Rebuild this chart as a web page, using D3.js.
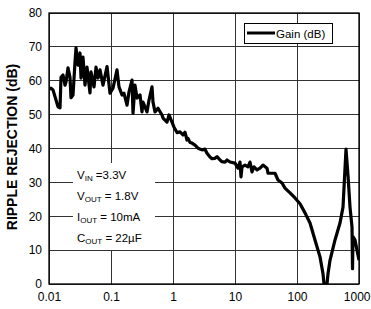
<!DOCTYPE html>
<html><head><meta charset="utf-8">
<script src="https://cdn.jsdelivr.net/npm/d3@7"></script>
<style>body{margin:0;background:#fff}svg{display:block;font-family:"Liberation Sans",Arial,sans-serif}</style>
</head><body><svg id="c" width="371" height="309"></svg>
<script>
const freq = [0.0100,0.01077,0.0116,0.01297,0.01397,0.01505,0.01562,0.01682,0.01812,0.0188,0.02025,0.02182,0.02264,0.02439,0.02627,0.02727,0.02937,0.03162,0.03282,0.03535,0.03808,0.04102,0.04585,0.04759,0.0532,0.0573,0.06172,0.06648,0.07432,0.08622,0.09639,
 0.1077,0.125,0.1346,0.1505,0.1621,0.1812,0.1951,0.2182,0.2264,0.2439,0.2627,0.2937,0.3162,0.3282,0.3808,0.4102,0.4585,0.4759,0.5126,0.573,0.6648,0.69,0.8005,0.8622,0.9639,
 1.038,1.16,1.297,1.45,1.562,1.682,1.746,1.88,2.025,2.264,2.531,2.937,3.282,3.535,3.952,4.257,4.759,5.126,5.73,6.172,6.9,7.432,8.308,
 10.0,11.18,12.04,12.5,12.97,14.5,16.21,17.46,18.8,20.25,22.64,25.31,28.3,32.82,34.07,39.52,44.18,49.39,57.3,64.06,77.13,92.88,
 111.8,134.6,162.1,195.1,235,262.7,272.7,304.8,316.2,340.7,410.2,493.9,552.1,617.2,664.8,716.1,771.3,786,800.5,862.2,928.8,1000];
const gain = [57.5,57.8,57.3,54.3,52.3,52.0,61.0,61.7,58.7,59.6,63.8,61.0,55.0,55.8,65.5,69.7,64.6,68.2,60.8,67.0,58.7,64.0,56.4,62.6,58.2,64.0,60.8,63.2,58.7,64.2,56.3,
 57.8,63.2,58.2,55.8,56.3,52.8,56.7,60.2,50.4,58.7,54.9,55.8,50.8,53.7,50.8,54.3,58.2,53.7,50.8,51.9,49.9,49.0,47.8,49.9,47.8,
 46.3,44.7,44.9,44.0,44.8,42.5,43.0,41.8,41.6,41.0,40.1,39.6,39.8,38.6,37.5,37.0,37.1,37.6,36.6,36.1,36.0,36.6,36.0,
 35.7,34.2,36.0,31.6,34.6,35.1,34.6,36.0,33.1,34.6,33.7,34.2,35.1,34.2,32.7,32.7,32.7,30.7,29.8,28.3,26.9,25.4,
 23.7,21.0,18.0,13.0,8.0,3.0,0.0,0.0,3.0,7.0,13.0,18.0,22.7,39.8,32.0,22.7,16.8,4.5,14.0,13.0,10.0,7.0];
const xTicks = [0.01,0.1,1,10,100,1000];
const xTickLabels = ["0.01","0.1","1","10","100","1000"];
const yTicks = [0,10,20,30,40,50,60,70,80];
const yTitle = "RIPPLE REJECTION (dB)";
const legendLabel = "Gain (dB)";
const notes = [["V","IN"," =3.3V"],["V","OUT"," = 1.8V"],["I","OUT"," = 10mA"],["C","OUT"," = 22\u00b5F"]];

const svg = d3.select("#c");
const L=49,R=359,T=13,B=284;
const x = d3.scaleLog().domain([0.01,1000]).range([L,R]);
const y = d3.scaleLinear().domain([0,80]).range([B,T]);

const g = svg.append("g");
g.selectAll(".vg").data(xTicks).enter().append("line")
 .attr("x1",d=>x(d)).attr("x2",d=>x(d)).attr("y1",T).attr("y2",B)
 .attr("stroke","#333").attr("stroke-width",1).attr("shape-rendering","crispEdges");
g.selectAll(".hg").data(yTicks).enter().append("line")
 .attr("x1",L).attr("x2",R).attr("y1",d=>y(d)).attr("y2",d=>y(d))
 .attr("stroke","#333").attr("stroke-width",1).attr("shape-rendering","crispEdges");

const xa = svg.append("g").attr("transform",`translate(0,${B})`)
 .call(d3.axisBottom(x).tickValues(xTicks).tickFormat((d,i)=>xTickLabels[i]).tickSize(0).tickPadding(8));
xa.select(".domain").remove();
xa.selectAll("text").attr("font-size",12).attr("fill","#000").attr("font-family","Liberation Sans, Arial, sans-serif");
xa.selectAll("text").filter(d=>d===1000).attr("text-anchor","end").attr("dx",11);
const ya = svg.append("g").attr("transform",`translate(${L},0)`)
 .call(d3.axisLeft(y).tickValues(yTicks).tickSize(0).tickPadding(7));
ya.select(".domain").remove();
ya.selectAll("text").attr("font-size",12).attr("fill","#000").attr("font-family","Liberation Sans, Arial, sans-serif");

svg.append("text").attr("transform",`translate(17,147) rotate(-90)`)
 .attr("text-anchor","middle").attr("font-size",14).attr("font-weight","bold").text(yTitle);

const nb = svg.append("g");
nb.append("rect").attr("x",73).attr("y",163).attr("width",82).attr("height",87).attr("fill","#fff");
notes.forEach((n,i)=>{
  const t = nb.append("text").attr("x",77).attr("y",178.5+i*21.3).attr("font-size",11.5);
  t.append("tspan").text(n[0]);
  t.append("tspan").attr("font-size",8).attr("dy",2).text(n[1]);
  t.append("tspan").attr("dy",-2).text(n[2]);
});

svg.append("clipPath").attr("id","pc").append("rect").attr("x",L).attr("y",T-5).attr("width",R-L+1).attr("height",B-T+5);
const line = d3.line().x((d,i)=>x(freq[i])).y(d=>y(d)).curve(d3.curveLinear);
svg.append("path").datum(gain).attr("d",line).attr("fill","none").attr("stroke","#000")
 .attr("stroke-width",3.2).attr("stroke-linejoin","round").attr("clip-path","url(#pc)");

svg.append("rect").attr("x",L).attr("y",T).attr("width",R-L).attr("height",B-T)
 .attr("fill","none").attr("stroke","#000").attr("stroke-width",1.3);

const lg = svg.append("g");
lg.append("rect").attr("x",244.5).attr("y",23.5).attr("width",88).attr("height",20).attr("fill","#fff").attr("stroke","#000").attr("stroke-width",1);
lg.append("line").attr("x1",247).attr("x2",275).attr("y1",33).attr("y2",33).attr("stroke","#000").attr("stroke-width",3);
lg.append("text").attr("x",276).attr("y",37.5).attr("font-size",11.5).text(legendLabel);
</script></body></html>
